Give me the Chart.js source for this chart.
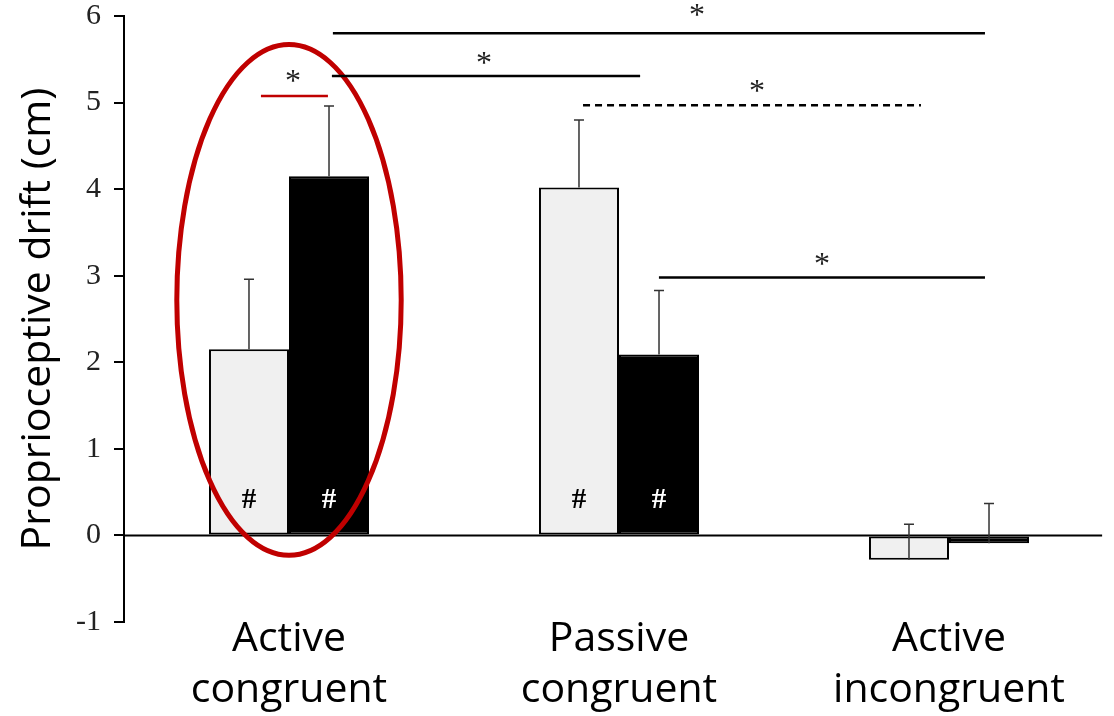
<!DOCTYPE html>
<html><head><meta charset="utf-8">
<script src="https://cdn.jsdelivr.net/npm/chart.js@4"></script>
<style>html,body{margin:0;padding:0;background:#fff}#wrap{width:1114px;height:716px;position:relative}</style>
</head><body><div id="wrap"><canvas id="c"></canvas></div>
<script>
// ---- data ----
const categories = [["Active","congruent"],["Passive","congruent"],["Active","incongruent"]];
const lightValues = [2.15, 4.02, -0.28];
const lightErrors = [0.81, 0.78, 0.41];
const darkValues = [4.15, 2.09, -0.09];
const darkErrors = [0.81, 0.74, 0.46];
const yMin = -1, yMax = 6, yStep = 1;
const hashLight = [true, true, false];
const hashDark = [true, true, false];
const hashY = 0.40;
// significance bars: x in category-index units, y in cm
const sigFrom  = [0.133, 0.130, 0.891, 1.121, -0.085];
const sigTo    = [2.109, 1.064, 1.915, 2.109, 0.118];
const sigY     = [5.80, 5.306, 4.97, 2.98, 5.075];
const sigStarX = [1.236, 0.591, 1.418, 1.615, 0.012];
const sigStarY = [6.07, 5.51, 5.19, 3.19, 5.306];
const sigDashed = [false, false, true, false, false];
const sigRed    = [false, false, false, false, true];
const ellipseCenter = [0, 2.72];
const ellipseRadius = [0.34, 2.95];
const zeroLineEnd = 2.464;

const errorPlugin = {
  id: 'extras',
  afterDatasetsDraw(chart) {
    const ctx = chart.ctx, xs = chart.scales.x, ys = chart.scales.y;
    ctx.save();
    // zero line
    ctx.strokeStyle = '#000'; ctx.lineWidth = 2;
    ctx.beginPath();
    ctx.moveTo(chart.chartArea.left, ys.getPixelForValue(0));
    ctx.lineTo(xs.getPixelForValue(zeroLineEnd), ys.getPixelForValue(0));
    ctx.stroke();
    // error bars
    const errs = [lightErrors, darkErrors];
    const vals = [lightValues, darkValues];
    chart.data.datasets.forEach((ds, di) => {
      const meta = chart.getDatasetMeta(di);
      meta.data.forEach((bar, i) => {
        const y0 = ys.getPixelForValue(vals[di][i]);
        const y1 = ys.getPixelForValue(vals[di][i] + errs[di][i]);
        ctx.strokeStyle = '#333'; ctx.lineWidth = 1.5;
        ctx.beginPath();
        ctx.moveTo(bar.x, y0); ctx.lineTo(bar.x, y1);
        ctx.moveTo(bar.x - 5, y1); ctx.lineTo(bar.x + 5, y1);
        ctx.stroke();
      });
    });
    // hash marks
    ctx.font = 'bold 29px "Liberation Serif"';
    ctx.textAlign = 'center'; ctx.textBaseline = 'middle';
    const hashes = [hashLight, hashDark];
    chart.data.datasets.forEach((ds, di) => {
      const meta = chart.getDatasetMeta(di);
      meta.data.forEach((bar, i) => {
        if (!hashes[di][i]) return;
        ctx.fillStyle = di === 0 ? '#000' : '#fff';
        ctx.fillText('#', bar.x, ys.getPixelForValue(hashY));
      });
    });
    // ellipse
    const cx = xs.getPixelForValue(ellipseCenter[0]);
    const cy = ys.getPixelForValue(ellipseCenter[1]);
    const rx = xs.getPixelForValue(ellipseCenter[0] + ellipseRadius[0]) - cx;
    const ry = cy - ys.getPixelForValue(ellipseCenter[1] + ellipseRadius[1]);
    ctx.strokeStyle = '#c00000'; ctx.lineWidth = 5;
    ctx.beginPath(); ctx.ellipse(cx, cy, rx, ry, 0, 0, Math.PI * 2); ctx.stroke();
    // significance lines
    for (let k = 0; k < sigY.length; k++) {
      const y = ys.getPixelForValue(sigY[k]);
      ctx.strokeStyle = sigRed[k] ? '#c00000' : '#000';
      ctx.lineWidth = 2.5;
      ctx.setLineDash(sigDashed[k] ? [7, 5] : []);
      ctx.beginPath();
      ctx.moveTo(xs.getPixelForValue(sigFrom[k]), y);
      ctx.lineTo(xs.getPixelForValue(sigTo[k]), y);
      ctx.stroke();
      ctx.setLineDash([]);
      ctx.fillStyle = '#222';
      ctx.font = '32px "Liberation Serif"';
      ctx.textAlign = 'center'; ctx.textBaseline = 'alphabetic';
      ctx.fillText('*', xs.getPixelForValue(sigStarX[k]), ys.getPixelForValue(sigStarY[k]) + 15);
    }
    ctx.restore();
  }
};

new Chart(document.getElementById('c'), {
  type: 'bar',
  data: {
    labels: categories,
    datasets: [
      { label: 'light', data: lightValues, backgroundColor: '#f0f0f0', borderColor: '#000', borderWidth: 2, borderSkipped: false },
      { label: 'dark', data: darkValues, backgroundColor: '#000', borderColor: '#000', borderWidth: 2, borderSkipped: false }
    ]
  },
  options: {
    responsive: true, maintainAspectRatio: false, animation: false,
    layout: { padding: { top: 16, left: 0, right: 0, bottom: 0 } },
    datasets: { bar: { categoryPercentage: 0.485, barPercentage: 1.0 } },
    plugins: { legend: { display: false }, tooltip: { enabled: false } },
    scales: {
      x: {
        grid: { display: false }, border: { display: false },
        ticks: { color: '#000', font: { family: '"Open Sans"', size: 41, lineHeight: 1.24 }, padding: -16, maxRotation: 0, autoSkip: false },
        afterFit(s) { s.height = 94; s.paddingLeft = 0; s.paddingRight = 0; }
      },
      y: {
        min: yMin, max: yMax,
        ticks: { stepSize: yStep, color: '#222', font: { family: '"Liberation Serif"', size: 30 }, padding: 13 },
        grid: { drawOnChartArea: false, drawTicks: true, tickLength: 10, color: '#000', lineWidth: 2 },
        border: { display: true, color: '#000', width: 2 },
        title: { display: true, text: 'Proprioceptive drift (cm)', color: '#000', font: { family: '"Open Sans"', size: 41 }, padding: { top: 14, bottom: 0 } },
        afterFit(s) { s.width = 124; s.paddingTop = 0; s.paddingBottom = 0; }
      }
    }
  },
  plugins: [errorPlugin]
});
</script></body></html>
